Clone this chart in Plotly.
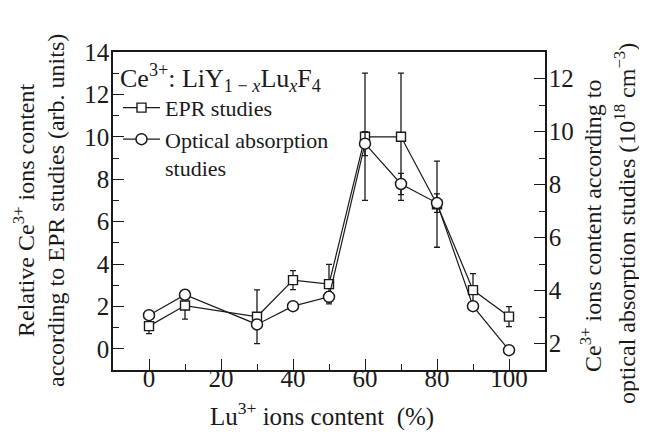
import plotly.graph_objects as go

# ---- data ----
lu_content = [0, 10, 30, 40, 50, 60, 70, 80, 90, 100]
epr_values = [1.07, 2.04, 1.51, 3.24, 3.05, 10.0, 10.0, 6.82, 2.77, 1.52]
epr_errors = [0.35, 0.64, 1.27, 0.45, 0.93, 3.0, 3.0, 2.03, 0.78, 0.47]
opt_values = [3.07, 3.84, 2.72, 3.41, 3.76, 9.54, 8.02, 7.30, 3.41, 1.75]
opt_errors = [0.12, 0.17, 0.10, 0.10, 0.20, 0.45, 0.40, 0.35, 0.15, 0.05]

x_ticks = [0, 20, 40, 60, 80, 100]
left_ticks = [0, 2, 4, 6, 8, 10, 12, 14]
right_ticks = [2, 4, 6, 8, 10, 12]

FONT = "Liberation Serif"
INK = "#1a1a1a"
W, H = 647, 432
ML, MR, MT, MB = 105, 110, 44, 70
PW = W - ML - MR
PH = H - MT - MB


def px_x(p):
    return (p - ML) / PW


def px_y(p):
    return (H - MB - p) / PH


fig = go.Figure()

fig.add_trace(go.Scatter(
    x=lu_content, y=epr_values, name="EPR studies",
    mode="lines+markers",
    line=dict(color=INK, width=1.2),
    marker=dict(symbol="square", size=9, color="white",
                line=dict(color=INK, width=1.4)),
    error_y=dict(type="data", array=epr_errors, visible=True,
                 color=INK, thickness=1.3, width=3),
    yaxis="y",
))
fig.add_trace(go.Scatter(
    x=lu_content, y=opt_values, name="Optical absorption<br>studies",
    mode="lines+markers",
    line=dict(color=INK, width=1.2),
    marker=dict(symbol="circle", size=11, color="white",
                line=dict(color=INK, width=1.5)),
    error_y=dict(type="data", array=opt_errors, visible=True,
                 color=INK, thickness=1.3, width=3),
    yaxis="y2",
))

axis_common = dict(
    showgrid=False, zeroline=False, showline=True,
    linecolor=INK, linewidth=1.6,
    ticks="inside", tickcolor=INK, tickwidth=1.3,
    tickfont=dict(family=FONT, size=25, color=INK),
)

fig.update_layout(
    width=W, height=H,
    margin=dict(l=ML, r=MR, t=MT, b=MB),
    paper_bgcolor="white", plot_bgcolor="white",
    font=dict(family=FONT, size=24, color=INK),
    showlegend=True,
    legend=dict(
        x=px_x(110), y=px_y(45), xanchor="left", yanchor="top",
        bgcolor="rgba(0,0,0,0)", borderwidth=0,
        font=dict(family=FONT, size=22, color=INK),
        itemwidth=37, valign="top",
        title=dict(
            text="Ce<sup>3+</sup>: LiY<sub>1 \u2212 <i>x</i></sub>Lu<sub><i>x</i></sub>F<sub>4</sub>",
            font=dict(family=FONT, size=26, color=INK), side="top"),
        tracegroupgap=0,
    ),
    xaxis=dict(
        range=[-10, 110], tickvals=x_ticks, ticklen=11,
        mirror=True, ticklabelstandoff=-15,
        minor=dict(dtick=10, tick0=0, ticks="inside", ticklen=6,
                   tickcolor=INK, tickwidth=1.3),
        **axis_common,
    ),
    yaxis=dict(
        range=[-1, 14], tickvals=left_ticks, ticklen=11,
        ticklabelstandoff=-3,
        minor=dict(dtick=1, tick0=0, ticks="inside", ticklen=6,
                   tickcolor=INK, tickwidth=1.3),
        **axis_common,
    ),
    yaxis2=dict(
        range=[1, 13], tickvals=right_ticks, ticklen=11,
        overlaying="y", side="right", ticklabelstandoff=-3,
        minor=dict(dtick=1, tick0=0, ticks="inside", ticklen=6,
                   tickcolor=INK, tickwidth=1.3),
        **axis_common,
    ),
)

annots = [
    dict(text="Lu<sup>3+</sup> ions content\u00a0 (%)",
         x=px_x(314), y=px_y(406), xanchor="center", yanchor="middle",
         textangle=0, size=25),
    dict(text="Relative Ce<sup>3+</sup> ions content",
         x=px_x(16), y=0.5, xanchor="center", yanchor="middle", textangle=-90, size=24),
    dict(text="according to EPR studies (arb. units)",
         x=px_x(48), y=0.5, xanchor="center", yanchor="middle", textangle=-90, size=24),
    dict(text="Ce<sup>3+</sup> ions content according to",
         x=px_x(583), y=px_y(218), xanchor="center", yanchor="middle", textangle=-90, size=24),
    dict(text="optical absorption studies (10<sup>18</sup> cm<sup>\u22123</sup>)",
         x=px_x(617), y=px_y(216), xanchor="center", yanchor="middle", textangle=-90, size=24),
]
for a in annots:
    size = a.pop("size")
    fig.add_annotation(xref="paper", yref="paper", showarrow=False,
                       font=dict(family=FONT, size=size, color=INK), **a)

fig.write_html("out.html")
